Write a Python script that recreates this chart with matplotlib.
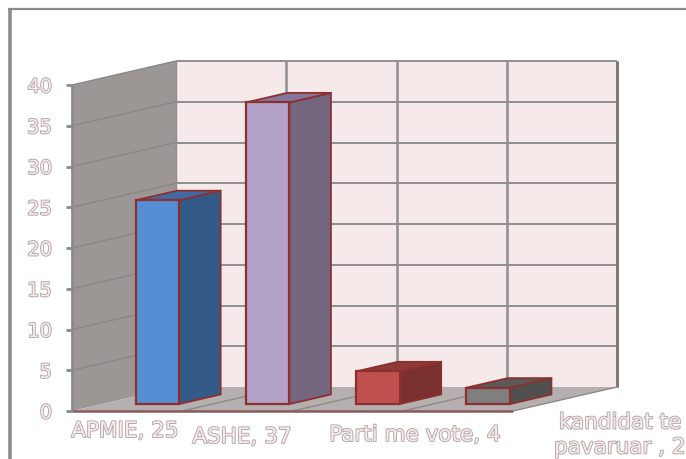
#!/usr/bin/env python3
"""Fake-3D column chart, drawn with a small oblique projection."""
import matplotlib
matplotlib.use('Agg')
import matplotlib.pyplot as plt
import matplotlib.patheffects as pe
from matplotlib.patches import Polygon

categories = ['APMIE, 25', 'ASHE, 37', 'Parti me vote, 4', 'kandidat te\npavaruar , 2']
values = [25, 37, 4, 2]
y_ticks = [0, 5, 10, 15, 20, 25, 30, 35, 40]
y_tick_labels = ['0', '5', '10', '15', '20', '25', '30', '35', '40']

front_colors = ['#558ed5', '#b3a2c7', '#c0504d', '#7f7f7f']
side_colors = ['#345a87', '#75667f', '#7a302e', '#505050']
top_colors = ['#3f6aa3', '#85779b', '#8e3a37', '#5a5a5a']
EDGE = '#8e2f2f'
GRID = '#8f8f8f'
TEXT = '#f3ecec'
TEXT_EDGE = '#b8a3a3'

# projection set up, all in pixels of the picture
X0, Y0 = 72, 411
CAT_W = 110.25
UNIT = 8.15
DX, DY = 104, -24
BAR_W = 0.395
D_FRONT, D_BACK = 0.29, 0.69

outline = [pe.Stroke(linewidth=1.3, foreground=TEXT_EDGE), pe.Normal()]


def proj(cat, val, depth=0.0):
    return X0 + cat * CAT_W + depth * DX, Y0 - val * UNIT + depth * DY


def quad(ax, pts, color, edge='none', lw=0.0, z=1):
    ax.add_patch(Polygon([proj(*p) for p in pts], closed=True, facecolor=color,
                         edgecolor=edge, linewidth=lw, joinstyle='miter', zorder=z))


def line(ax, p, q, color=GRID, lw=1.6, z=2):
    a, b = proj(*p), proj(*q)
    ax.plot([a[0], b[0]], [a[1], b[1]], color=color, lw=lw, zorder=z,
            solid_capstyle='butt')


fig = plt.figure(figsize=(6.86, 4.59), dpi=100)
ax = fig.add_axes([0, 0, 1, 1])
ax.set_xlim(0, 686)
ax.set_ylim(459, 0)
ax.axis('off')

ncat = len(categories)
top = y_ticks[-1]

# outer chart frame
ax.plot([9.5, 9.5], [459, 8], color='#8c8c8c', lw=2.6, zorder=1, solid_capstyle='butt')
ax.plot([8, 686], [9, 9], color='#8c8c8c', lw=1.6, zorder=1, solid_capstyle='butt')

# walls and floor
quad(ax, [(0, 0, 1), (ncat, 0, 1), (ncat, top, 1), (0, top, 1)], '#f5e9e9')
quad(ax, [(0, 0, 0), (0, 0, 1), (0, top, 1), (0, top, 0)], '#9c9695')
quad(ax, [(0, 0, 0), (ncat, 0, 0), (ncat, 0, 1), (0, 0, 1)], '#b6afaf')

# gridlines
for t in y_ticks:
    if t > 0:
        line(ax, (0, t, 1), (ncat, t, 1), lw=1.4)
        line(ax, (0, t, 0), (0, t, 1), color='#8a8685', lw=1.0)
for c in range(ncat + 1):
    line(ax, (c, 0, 1), (c, top, 1), lw=1.8 if c else 1.0)
    if 0 < c < ncat:
        line(ax, (c, 0, 0), (c, 0, 1), color='#8f8888', lw=1.0)
line(ax, (ncat, 0, 1), (ncat, top, 1), color='#7d7474', lw=2.0, z=3)
line(ax, (0, 0, 0), (0, top, 0), color='#8a8a8a', lw=2.0, z=3)
line(ax, (0, 0, 0), (ncat, 0, 0), color='#8a5a5a', lw=1.8, z=3)
line(ax, (ncat, 0, 0), (ncat, 0, 1), color='#8f8888', lw=1.0, z=3)

# ticks
for t, lab in zip(y_ticks, y_tick_labels):
    x, y = proj(0, t)
    ax.plot([x - 6, x], [y, y], color='#8a8a8a', lw=2.0, zorder=3, solid_capstyle='butt')
    ax.text(x - 20, y + 2, lab, ha='right', va='center', fontsize=14, color=TEXT,
            family='DejaVu Sans', path_effects=outline)

# bars
for i, v in enumerate(values):
    l, r = i + 0.5 - BAR_W / 2, i + 0.5 + BAR_W / 2
    z = 5 + i
    quad(ax, [(r, 0, D_FRONT), (r, 0, D_BACK), (r, v, D_BACK), (r, v, D_FRONT)], side_colors[i], EDGE, 1.3, z)
    quad(ax, [(l, v, D_FRONT), (r, v, D_FRONT), (r, v, D_BACK), (l, v, D_BACK)], top_colors[i], EDGE, 1.3, z)
    quad(ax, [(l, 0, D_FRONT), (r, 0, D_FRONT), (r, v, D_FRONT), (l, v, D_FRONT)], front_colors[i], EDGE, 1.6, z)

# category labels, placed by hand since the original wanders about
label_pos = [(125, 431), (242, 437), (415, 435), (620, 435)]
for lab, (x, y) in zip(categories, label_pos):
    ax.text(x, y, lab, ha='center', va='center', fontsize=15.5, color=TEXT,
            family='DejaVu Sans', linespacing=1.3, path_effects=outline)

fig.savefig('out.png', dpi=100, facecolor='white')
plt.close(fig)
